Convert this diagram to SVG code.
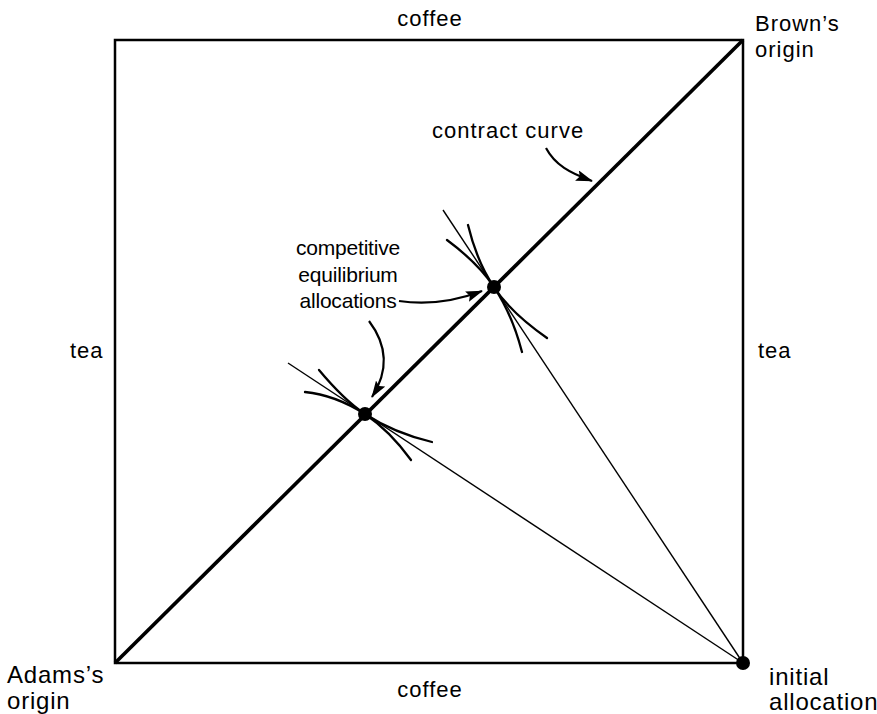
<svg xmlns="http://www.w3.org/2000/svg" width="877" height="714" viewBox="0 0 877 714">
<defs>
<style>
text{font-family:"Liberation Sans",Arial,sans-serif;font-size:22px;fill:#000;letter-spacing:1px}
.mid{font-size:21px;letter-spacing:-0.2px}
.big{font-size:24px;letter-spacing:0.8px}
.box{fill:none;stroke:#000;stroke-width:2.5}
.diag{stroke:#000;stroke-width:3.6;fill:none}
.budget{stroke:#000;stroke-width:1.4;fill:none}
.ic{stroke:#000;stroke-width:2.3;fill:none;stroke-linecap:round}
.arr{stroke:#000;stroke-width:2.2;fill:none;marker-end:url(#ah)}
</style>
<marker id="ah" viewBox="0 0 17 11" refX="16" refY="5.5" markerWidth="17" markerHeight="11" markerUnits="userSpaceOnUse" orient="auto">
<path d="M0,0 L17,5.5 L0,11 L3,5.5 Z" fill="#000"/>
</marker>
</defs>
<rect width="877" height="714" fill="#fff"/>
<g id="box"><rect class="box" x="115" y="40" width="628" height="623"/></g>
<g id="connectors">
<line class="diag" x1="115" y1="663" x2="743" y2="40"/>
<line class="budget" x1="743" y1="663" x2="288" y2="363"/>
<line class="budget" x1="743" y1="663" x2="443" y2="210"/>
<path class="ic" d="M319,370 Q344,400 365,414 Q394,433 432,442"/>
<path class="ic" d="M305,392 Q335,395 365,414 Q390,431 411,460"/>
<path class="ic" d="M468,225 Q477,262 494,287 Q510,312 547,338"/>
<path class="ic" d="M447,240 Q478,263 494,287 Q512,314 522,352"/>
<path class="arr" d="M546,148 C555,165 570,173 592,181"/>
<path class="arr" d="M399,301 Q440,307 482,291"/>
<path class="arr" d="M369,321 Q397,358 372,397"/>
</g>
<g id="e1"><circle cx="365" cy="414" r="7"/></g>
<g id="e2"><circle cx="494" cy="287" r="7"/></g>
<g id="init"><circle cx="743" cy="663" r="7"/></g>
<g id="labels">
<text x="430" y="26" text-anchor="middle">coffee</text>
<text x="430" y="697" text-anchor="middle">coffee</text>
<text x="755" y="31">Brown’s</text>
<text x="755" y="57">origin</text>
<text x="70" y="358">tea</text>
<text x="758" y="358">tea</text>
<text x="432" y="138">contract curve</text>
<text class="mid" x="348" y="255" text-anchor="middle">competitive</text>
<text class="mid" x="348" y="282" text-anchor="middle">equilibrium</text>
<text class="mid" x="348" y="308" text-anchor="middle">allocations</text>
<text class="big" x="7" y="683">Adams’s</text>
<text class="big" x="7" y="709">origin</text>
<text class="big" x="769" y="685">initial</text>
<text class="big" x="769" y="710">allocation</text>
</g>
</svg>
